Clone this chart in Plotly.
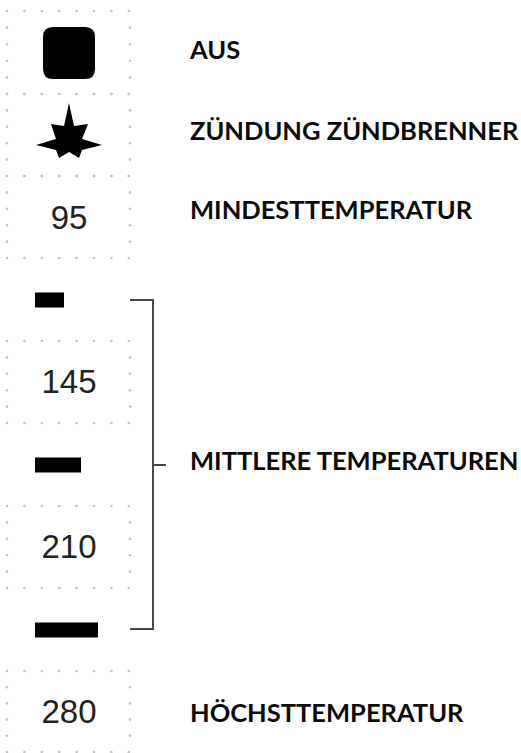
import plotly.graph_objects as go

temperatures = ["95", "145", "210", "280"]
level_bar_lengths = [29, 46, 63]
level_labels = ["AUS", "ZÜNDUNG ZÜNDBRENNER", "MINDESTTEMPERATUR",
                "MITTLERE TEMPERATUREN", "HÖCHSTTEMPERATUR"]

W, H = 521, 753
fig = go.Figure()

# dotted frames
frames = [(11, 94), (94, 176), (176, 258), (341, 423), (506, 588), (671, 752)]
xs_row = [7 + i * 17.4 for i in range(8)]
dx, dy = [], []
for top, bot in frames:
    for y in (top, bot):
        dx += xs_row
        dy += [y] * len(xs_row)
    n = round((bot - top) / 17.3)
    for j in range(1, n):
        y = top + j * (bot - top) / n
        dx += [7, 130]
        dy += [y, y]
fig.add_trace(go.Scatter(x=dx, y=dy, mode="markers",
                         marker=dict(size=2.6, color="#c4c4c4", line_width=0),
                         hoverinfo="skip"))

# level bars
fig.add_trace(go.Bar(x=level_bar_lengths, y=[300, 465, 630], base=35, orientation="h",
                     width=15, marker=dict(color="#000000", line_width=0)))

# temperature numbers
fig.add_trace(go.Scatter(x=[69, 69, 69, 69], y=[221, 385, 550, 715], mode="text",
                         text=temperatures,
                         textfont=dict(family="Liberation Sans", size=33, color="#222222"),
                         textposition="middle center"))

# right labels
fig.add_trace(go.Scatter(x=[190] * 5, y=[53, 134, 213, 464, 716], mode="text",
                         text=[f"<b>{t}</b>" for t in level_labels],
                         textfont=dict(family="Lato", size=25.5, color="#0a0a0a"),
                         textposition="middle right"))

# rounded square (off symbol)
r = 10
x0, x1, y0, y1 = 43, 95, 27, 79
square = (f"M{x0+r},{y0} L{x1-r},{y0} Q{x1},{y0} {x1},{y0+r} L{x1},{y1-r} Q{x1},{y1} {x1-r},{y1} "
          f"L{x0+r},{y1} Q{x0},{y1} {x0},{y1-r} L{x0},{y0+r} Q{x0},{y0} {x0+r},{y0} Z")
fig.add_shape(type="path", path=square, fillcolor="#000000", line_width=0)

# ignition star
star = [(69, 103), (74, 126), (88, 124), (82, 139), (102, 145), (82, 150), (79, 158), (69, 152),
        (59, 158), (56, 150), (36, 145), (56, 139), (51, 124), (64, 126)]
fig.add_shape(type="path", path="M" + " L".join(f"{a},{b}" for a, b in star) + " Z",
              fillcolor="#000000", line_width=0)

# bracket
fig.add_shape(type="path", path="M130,300 L153,300 L153,629 L130,629",
              line=dict(color="#4a4a4a", width=2))
fig.add_shape(type="line", x0=153, x1=166, y0=465, y1=465,
              line=dict(color="#4a4a4a", width=2))

fig.update_layout(width=W, height=H, margin=dict(l=0, r=0, t=0, b=0), showlegend=False,
                  paper_bgcolor="white", plot_bgcolor="white",
                  xaxis=dict(range=[0, W], visible=False, fixedrange=True),
                  yaxis=dict(range=[H, 0], visible=False, fixedrange=True))
fig.write_html("out.html", config=dict(displayModeBar=False),
               post_script="document.body.style.margin='0';document.body.style.overflow='hidden';")
